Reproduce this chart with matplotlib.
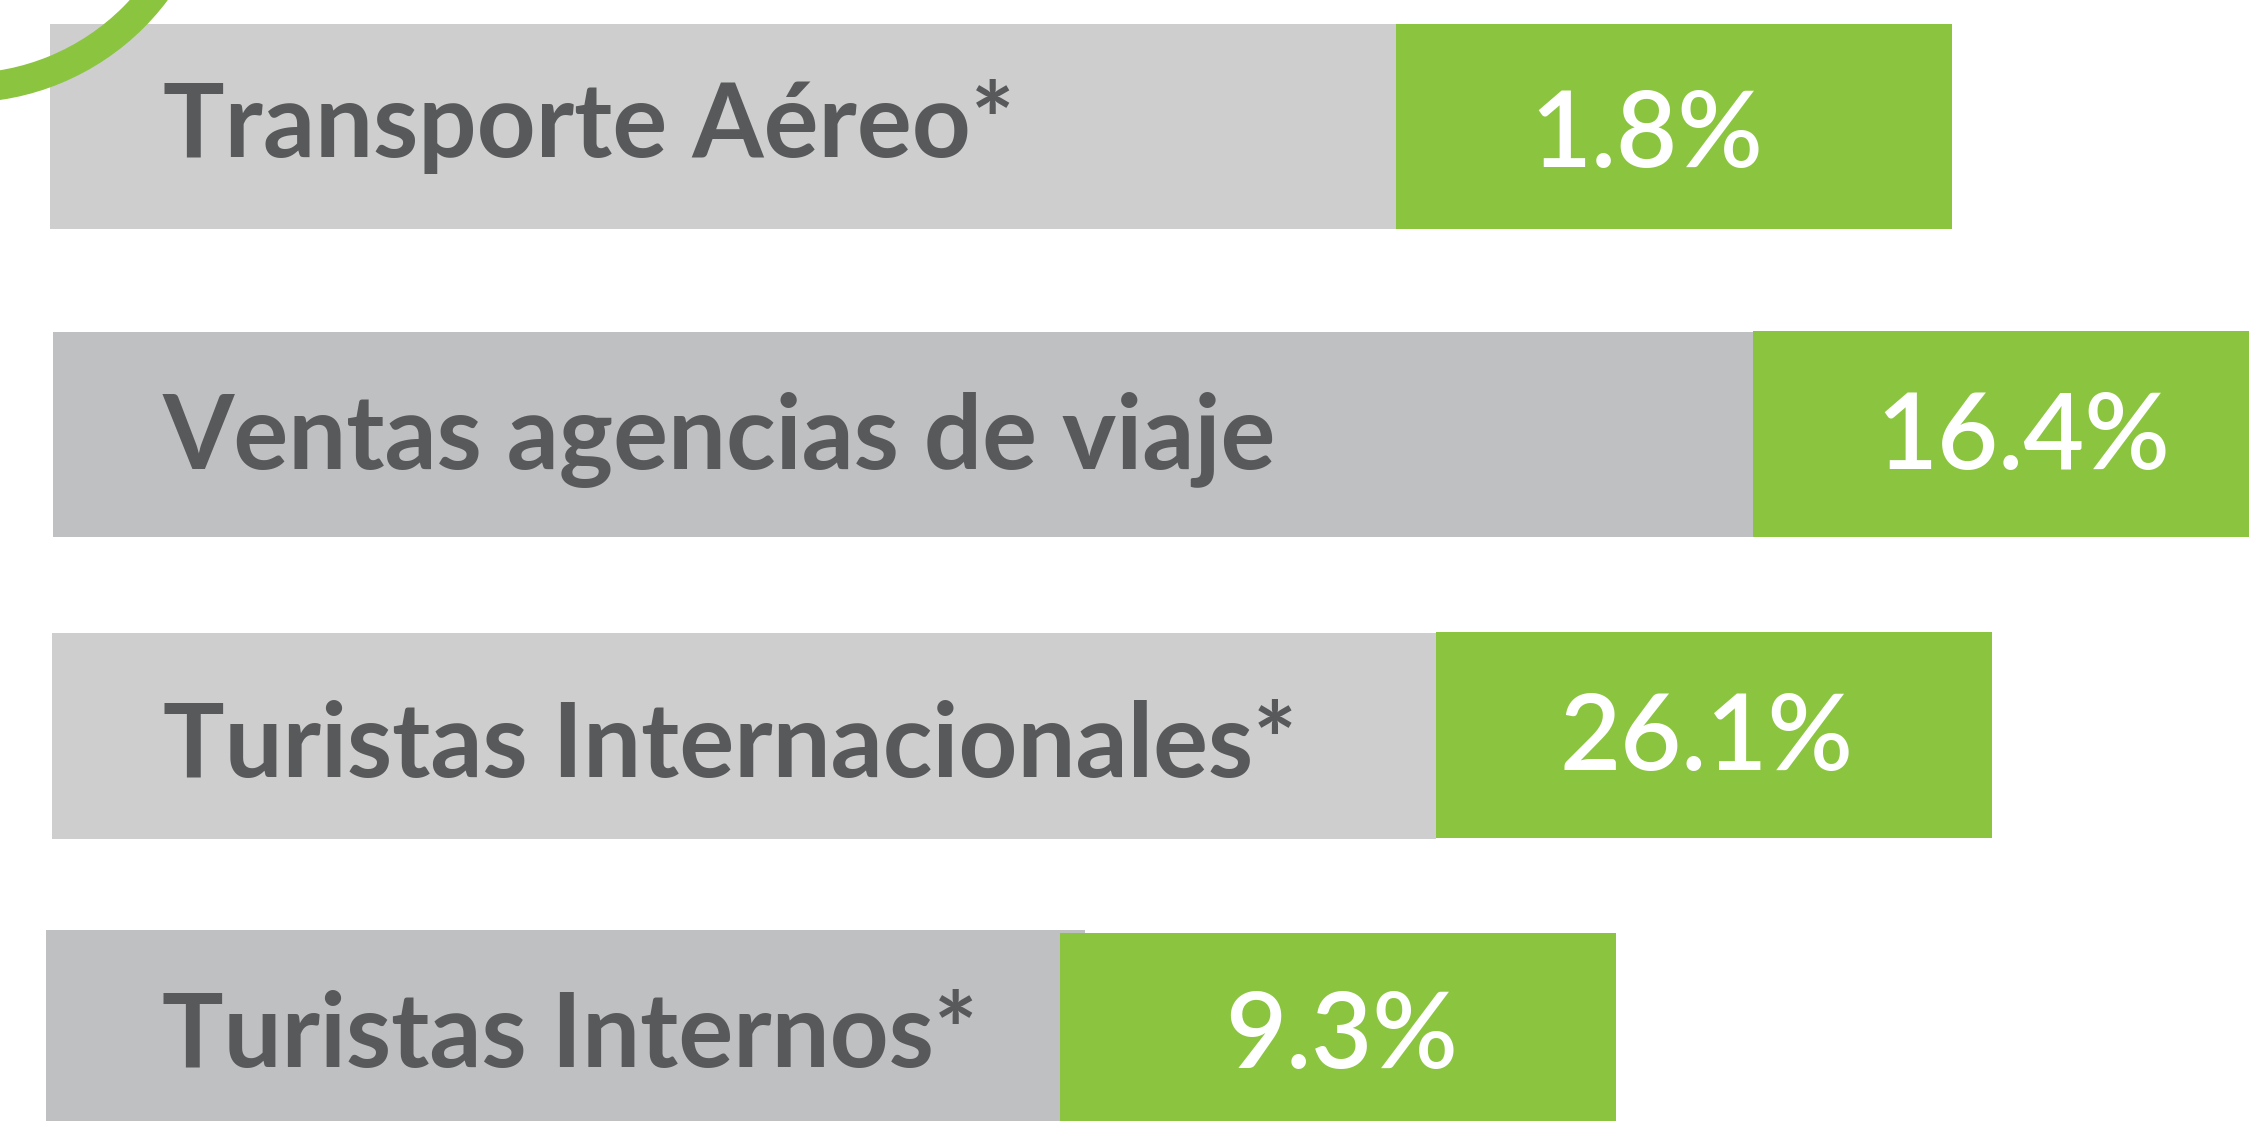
import numpy as np
import matplotlib
matplotlib.use("Agg")
import matplotlib.pyplot as plt
from matplotlib.patches import Wedge

# data
categorias = ['Transporte Aéreo*', 'Ventas agencias de viaje',
              'Turistas Internacionales*', 'Turistas Internos*']
valores = [1.8, 16.4, 26.1, 9.3]

# layout (pixel units, y down)
gris_izq = [50, 53, 52, 46]
gris_der = [1396, 1753, 1436, 1085]
gris_top = [24, 332, 633, 930]
gris_bot = [229, 537, 839, 1125]
verde_izq = [1396, 1753, 1436, 1060]
verde_der = [1952, 2260, 1992, 1616]
verde_top = [24, 331, 632, 933]
verde_bot = [229, 537, 838, 1125]
base_lab = [157, 469, 777, 1067]
base_val = [167, 469, 770, 1068]
x_lab = [163, 163, 163, 162]
x_val = [1647, 2023, 1706, 1342]

grises = ['#cdcecd', '#bfc0c2', '#cdcecd', '#bfc0c2']
verde = '#8bc540'
texto = '#58595b'

W, H = 2249, 1121
fig = plt.figure(figsize=(W / 100, H / 100), dpi=100)
ax = fig.add_axes([0, 0, 1, 1])
ax.set_xlim(0, W)
ax.set_ylim(H, 0)
ax.axis('off')

for i in range(len(categorias)):
    ax.barh((gris_top[i] + gris_bot[i]) / 2, gris_der[i] - gris_izq[i],
            height=gris_bot[i] - gris_top[i], left=gris_izq[i],
            color=grises[i], zorder=1)
    ax.barh((verde_top[i] + verde_bot[i]) / 2, verde_der[i] - verde_izq[i],
            height=verde_bot[i] - verde_top[i], left=verde_izq[i],
            color=verde, zorder=2)
    ax.text(x_lab[i], base_lab[i], categorias[i], fontsize=74,
            family='Lato', weight='bold', color=texto,
            ha='left', va='baseline', zorder=3)
    ax.text(x_val[i], base_val[i], f'{valores[i]:.1f}%', fontsize=76,
            family='Lato', weight='semibold', color='white',
            ha='center', va='baseline', zorder=3)

# green ring in the top-left corner
ax.add_patch(Wedge((-37, -153), 255, 0, 360, width=28, color=verde, zorder=4))

fig.savefig('out.png', dpi=100)
